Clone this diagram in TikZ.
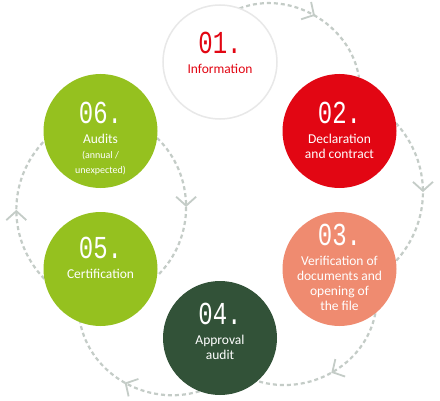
\documentclass[tikz,border=0pt]{standalone}
\usepackage{fontspec}
\usepackage{tikz}
\usetikzlibrary{arrows.meta, decorations.markings}
\setmainfont{Carlito}
\newfontfamily\numfont[FakeStretch=0.75]{Liberation Mono}

\definecolor{ringgray}{RGB}{232,232,232}
\definecolor{stepred}{RGB}{226,6,19}
\definecolor{stepsalmon}{RGB}{239,139,112}
\definecolor{stepdark}{RGB}{50,82,56}
\definecolor{steplime}{RGB}{149,193,31}
\definecolor{dashgray}{RGB}{196,204,199}

\newcommand{\stepnum}[1]{{\numfont\fontsize{32}{32}\selectfont #1}\\[5pt]}
\newcommand{\smalltxt}{\fontsize{10}{12}\selectfont}

\tikzset{every picture/.style={x=1pt,y=1pt},
  stage/.style={circle,minimum size=114pt,inner sep=0pt,outer sep=0pt},
  stagetext/.style={anchor=north,align=center,inner sep=0pt,text=white,font=\fontsize{13.5}{15}\selectfont},
  flow/.style={draw=dashgray,line width=2.2pt,dash pattern=on 4pt off 3pt,postaction={decorate},
    decoration={markings,mark=at position 0.5 with {\arrow{Straight Barb[length=9pt,width=20pt,line width=1.8pt]}}}}}

\begin{document}
\begin{tikzpicture}
            \fill[white] (0,0) rectangle (440,400);
            \useasboundingbox (0,0) rectangle (440,400);

            \node[stage] (n1) at (220, 338) {};
            \node[stage] (n2) at (339.5, 269) {};
            \node[stage] (n3) at (339.5, 131) {};
            \node[stage] (n4) at (220, 62) {};
            \node[stage] (n5) at (100.5, 131) {};
            \node[stage] (n6) at (100.5, 269) {};

            % dashed arcs behind the circles
            \foreach \from/\fa/\to/\ta/\oa/\ia in {n1/70/n2/70/21/99, n2/8/n3/8/-48/48, n3/309/n4/311/-101/-17,
                                                 n4/249/n5/249/197/281, n5/190/n6/190/134/226, n6/353/n5/353/-44/44}
              \draw[flow] (\from.\fa) to[out=\oa, in=\ia] (\to.\ta);

            \node[stage, fill=white, draw=ringgray, line width=1.5pt] at (n1) {};
            \node[stage, fill=stepred] at (n2) {};
            \node[stage, fill=stepsalmon] at (n3) {};
            \node[stage, fill=stepdark] at (n4) {};
            \node[stage, fill=steplime] at (n5) {};
            \node[stage, fill=steplime] at (n6) {};

            \node[stagetext, text=stepred] (t1) at ([yshift=30pt]n1.center) {\stepnum{01.}Information};
            \node[stagetext] (t2) at ([yshift=29pt]n2.center) {\stepnum{02.}Declaration\\and contract};
            \node[stagetext] (t3) at ([yshift=45pt]n3.center) {\stepnum{03.}Verification of\\documents and\\opening of\\the file};
            \node[stagetext] (t4) at ([yshift=35pt]n4.center) {\stepnum{04.}Approval\\audit};
            \node[stagetext] (t5) at ([yshift=32pt]n5.center) {\stepnum{05.}Certification};
            \node[stagetext] (t6) at ([yshift=29pt]n6.center) {\stepnum{06.}Audits\\{\smalltxt (annual /}\\{\smalltxt unexpected)}};
\end{tikzpicture}
\end{document}
